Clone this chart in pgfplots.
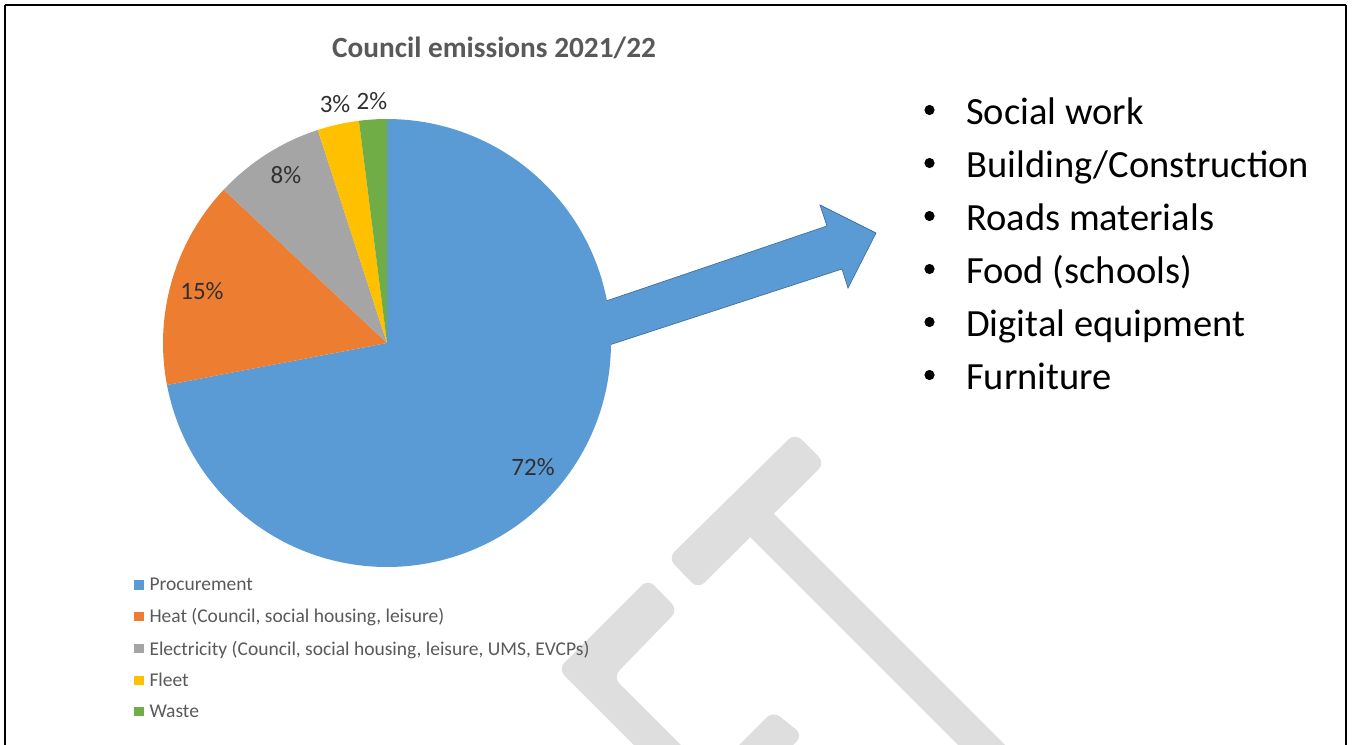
\documentclass[border=0pt]{standalone}
\usepackage{fontspec}
\setmainfont{Carlito}
\usepackage{pgfplots}
\pgfplotsset{compat=1.18}
\definecolor{cblue}{HTML}{5B9BD5}
\definecolor{corange}{HTML}{ED7D31}
\definecolor{cgrey}{HTML}{A5A5A5}
\definecolor{cgold}{HTML}{FFC000}
\definecolor{cgreen}{HTML}{70AD47}
\definecolor{textgrey}{HTML}{595959}
\definecolor{labelc}{HTML}{303030}
\definecolor{wmark}{HTML}{DEDEDE}
\definecolor{arrowedge}{HTML}{41719C}
% shares in percent
\def\vProc{72}\def\vHeat{15}\def\vElec{8}\def\vFleet{3}\def\vWaste{2}
\pgfmathsetmacro{\aA}{90-3.6*\vProc}
\pgfmathsetmacro{\aB}{\aA-3.6*\vHeat}
\pgfmathsetmacro{\aC}{\aB-3.6*\vElec}
\pgfmathsetmacro{\aD}{\aC-3.6*\vFleet}
\pgfmathsetmacro{\aE}{\aD-3.6*\vWaste}
\begin{document}
\begin{tikzpicture}
\begin{scope}[x=1pt,y=-1pt]
\path[use as bounding box] (0,0) rectangle (1354,744);
% watermark
\fill[wmark, rounded corners=9pt] (668,558) -- (795,433) -- (825,463) -- (698,589) -- cycle;
\fill[wmark] (760,500) -- (1030,770) -- (1006.5,793.5) -- (736.5,523.5) -- cycle;
\fill[wmark, rounded corners=9pt] (613,677) -- (706,770) -- (659,770) -- (558,669) -- (648,579) -- (678,610) -- cycle;
\fill[wmark, rounded corners=9pt] (773,711) -- (803,735) -- (768,770) -- (714,770) -- cycle;
% frame
\draw[line width=2.2pt] (5,5) -- (1346,5) (5,5) -- (5,800) (1346,5) -- (1346,800);
% block arrow
\draw[fill=cblue, draw=arrowedge, line width=0.7pt, line join=miter]
  (450,354) -- (827,226) -- (820,205) -- (876,233) -- (848,288) -- (842,269) -- (450,397) -- cycle;
\end{scope}
\begin{axis}[at={(387pt,-343pt)}, anchor=center, scale only axis,
  width=448pt, height=448pt, xmin=-1, xmax=1, ymin=-1, ymax=1,
  hide axis, clip=false,
  legend cell align=left,
  legend image code/.code={\fill[#1] (0pt,-4.8pt) rectangle (9.6pt,4.8pt); \path (15.5pt,0pt);},
  legend style={at={(0,0)}, anchor=north west, xshift=-29pt, yshift=-11pt,
    draw=none, fill=none, inner sep=0pt, outer sep=0pt,
    font=\fontsize{19.5}{23}\selectfont, text=textgrey, row sep=16.5pt,
    nodes={inner sep=0pt}},
  ]
\addplot[fill=cblue, draw=none, domain=\aA:90, samples=160] ({cos(x)},{sin(x)}) -- (axis cs:0,0) -- cycle;
\addlegendentry{Procurement}
\addplot[fill=corange, draw=none, domain=\aB:\aA, samples=40] ({cos(x)},{sin(x)}) -- (axis cs:0,0) -- cycle;
\addlegendentry{Heat (Council, social housing, leisure)}
\addplot[fill=cgrey, draw=none, domain=\aC:\aB, samples=30] ({cos(x)},{sin(x)}) -- (axis cs:0,0) -- cycle;
\addlegendentry{Electricity (Council, social housing, leisure, UMS, EVCPs)}
\addplot[fill=cgold, draw=none, domain=\aD:\aC, samples=20] ({cos(x)},{sin(x)}) -- (axis cs:0,0) -- cycle;
\addlegendentry{Fleet}
\addplot[fill=cgreen, draw=none, domain=\aE:\aD, samples=20] ({cos(x)},{sin(x)}) -- (axis cs:0,0) -- cycle;
\addlegendentry{Waste}
\begin{scope}[every node/.style={font=\fontsize{25}{30}\selectfont, text=labelc, inner sep=0pt}]
\node at (axis cs:0.652,-0.554) {72\%};
\node at (axis cs:-0.826,0.232) {15\%};
\node at (axis cs:-0.451,0.750) {8\%};
\node at (axis cs:-0.232,1.067) {3\%};
\node at (axis cs:-0.067,1.080) {2\%};
\end{scope}
\end{axis}
\begin{scope}[x=1pt,y=-1pt]
\node[font=\bfseries\fontsize{29.3}{35}\selectfont, text=textgrey, inner sep=0pt] at (494,48) {Council emissions 2021/22};
\foreach \t [count=\i from 0] in {Social work, Building/Construction, Roads materials, Food (schools), Digital equipment, Furniture}{
  \fill (929.5,110+53*\i) circle (5.1);
  \node[font=\fontsize{38.5}{46}\selectfont, anchor=base west, inner sep=0pt] at (966,124+53*\i) {\t};
}
\end{scope}
\end{tikzpicture}
\end{document}
